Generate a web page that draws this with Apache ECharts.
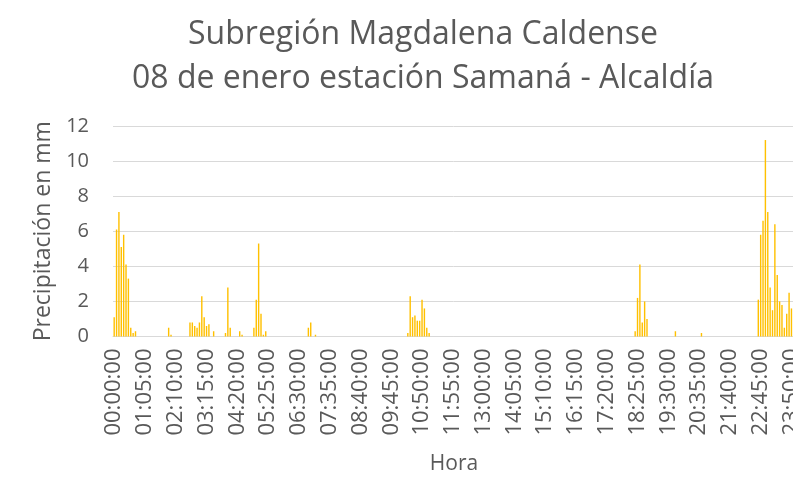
<!DOCTYPE html>
<html>
<head>
<meta charset="utf-8">
<script src="https://cdn.jsdelivr.net/npm/echarts@6/dist/echarts.min.js"></script>
<style>
  html, body { margin: 0; padding: 0; background: #fff; }
  #myChart { width: 793px; height: 484px; }
</style>
</head>
<body>
<div id="myChart"></div>
<script>
// precipitacion cada 5 minutos, una fila por hora (12 valores)
var precipitacion = [
	[1.1, 6.1, 7.1, 5.1, 5.8, 4.1, 3.3, 0.5, 0.2, 0.3, 0, 0],      // 00
	[0, 0, 0, 0, 0, 0, 0, 0, 0, 0, 0, 0.5],                         // 01
	[0.1, 0, 0, 0, 0, 0, 0, 0, 0.8, 0.8, 0.6, 0.5],                 // 02
	[0.8, 2.3, 1.1, 0.6, 0.7, 0, 0.3, 0, 0, 0, 0, 0.2],             // 03
	[2.8, 0.5, 0, 0, 0, 0.3, 0.1, 0, 0, 0, 0, 0.5],                 // 04
	[2.1, 5.3, 1.3, 0.1, 0.3, 0, 0, 0, 0, 0, 0, 0],                 // 05
	[0, 0, 0, 0, 0, 0, 0, 0, 0, 0, 0.5, 0.8],                       // 06
	[0, 0.1, 0, 0, 0, 0, 0, 0, 0, 0, 0, 0],                         // 07
	[0, 0, 0, 0, 0, 0, 0, 0, 0, 0, 0, 0],                           // 08
	[0, 0, 0, 0, 0, 0, 0, 0, 0, 0, 0, 0],                           // 09
	[0, 0, 0, 0, 0.2, 2.3, 1.1, 1.2, 0.9, 0.9, 2.1, 1.6],           // 10
	[0.5, 0.2, 0, 0, 0, 0, 0, 0, 0, 0, 0, 0],                       // 11
	[0, 0, 0, 0, 0, 0, 0, 0, 0, 0, 0, 0],                           // 12
	[0, 0, 0, 0, 0, 0, 0, 0, 0, 0, 0, 0],                           // 13
	[0, 0, 0, 0, 0, 0, 0, 0, 0, 0, 0, 0],                           // 14
	[0, 0, 0, 0, 0, 0, 0, 0, 0, 0, 0, 0],                           // 15
	[0, 0, 0, 0, 0, 0, 0, 0, 0, 0, 0, 0],                           // 16
	[0, 0, 0, 0, 0, 0, 0, 0, 0, 0, 0, 0],                           // 17
	[0, 0, 0, 0, 0.3, 2.2, 4.1, 0.8, 2.0, 1.0, 0, 0],               // 18
	[0, 0, 0, 0, 0, 0, 0, 0, 0, 0.3, 0, 0],                         // 19
	[0, 0, 0, 0, 0, 0, 0, 0, 0.2, 0, 0, 0],                         // 20
	[0, 0, 0, 0, 0, 0, 0, 0, 0, 0, 0, 0],                           // 21
	[0, 0, 0, 0, 0, 0, 0, 0, 2.1, 5.8, 6.6, 11.2],                  // 22
	[7.1, 2.8, 1.5, 6.4, 3.5, 2.0, 1.8, 0.5, 1.3, 2.5, 1.6, 0]      // 23
];

var titulo = 'Subregión Magdalena Caldense\n08 de enero estación Samaná - Alcaldía';
var nombreEjeY = 'Precipitación en mm';
var nombreEjeX = 'Hora';

// etiquetas de hora hh:mm:ss
var horas = [];
var valores = [];
for (var h = 0; h < precipitacion.length; h++) {
	for (var m = 0; m < 12; m++) {
		var hh = (h < 10 ? '0' : '') + h;
		var mm = (m * 5 < 10 ? '0' : '') + (m * 5);
		horas.push(hh + ':' + mm + ':00');
		valores.push(precipitacion[h][m]);
	}
}

var myChart = echarts.init(document.getElementById('myChart'));

var gris = '#595959';
var fuente = 'Open Sans';

var option = {
	backgroundColor: '#fff',
	animation: false,
	title: {
		text: titulo,
		left: 418,
		top: 8,
		textAlign: 'center',
		textStyle: {
			color: gris,
			fontFamily: fuente,
			fontWeight: 'normal',
			fontSize: 32,
			lineHeight: 44
		}
	},
	grid: {
		left: 113,
		width: 682,
		top: 126,
		bottom: 147.5,
		outerBoundsMode: 'none',
		containLabel: false
	},
	xAxis: {
		type: 'category',
		data: horas,
		name: nombreEjeX,
		nameLocation: 'middle',
		nameGap: 117,
		nameTextStyle: { color: gris, fontFamily: fuente, fontSize: 21 },
		axisLine: { lineStyle: { color: '#d9d9d9', width: 1 } },
		axisTick: { show: false },
		axisLabel: {
			interval: 12,
			rotate: 90,
			color: gris,
			fontFamily: fuente,
			fontSize: 22,
			margin: 12
		}
	},
	yAxis: {
		type: 'value',
		min: 0,
		max: 12,
		interval: 2,
		name: nombreEjeY,
		nameLocation: 'middle',
		nameGap: 54,
		nameTextStyle: { color: gris, fontFamily: fuente, fontSize: 23 },
		axisLine: { show: false },
		axisTick: { show: false },
		axisLabel: { color: gris, fontFamily: fuente, fontSize: 20, margin: 24 },
		splitLine: { lineStyle: { color: '#d9d9d9', width: 1 } }
	},
	series: [
		{
			name: nombreEjeY,
			type: 'bar',
			data: valores,
			barCategoryGap: '40%',
			itemStyle: { color: '#ffc000' }
		}
	]
};

myChart.setOption(option);
</script>
</body>
</html>
